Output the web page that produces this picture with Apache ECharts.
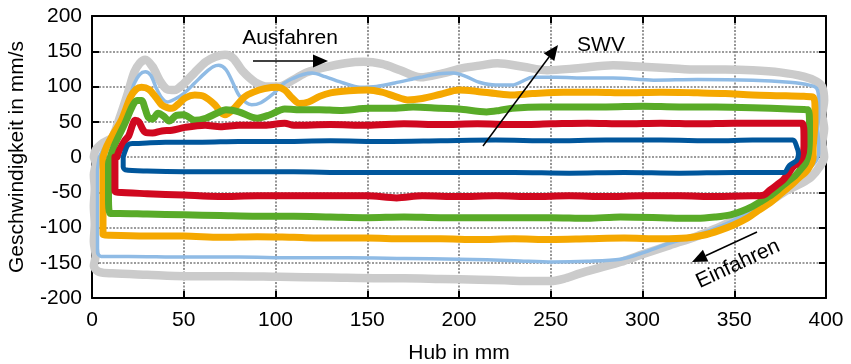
<!DOCTYPE html>
<html>
<head>
<meta charset="utf-8">
<script src="https://cdn.jsdelivr.net/npm/echarts@6/dist/echarts.min.js"></script>
<style>
  html, body { margin: 0; padding: 0; background: #fff; }
  #chart { width: 851px; height: 364px; }
</style>
</head>
<body>
<div id="chart"></div>
<script>
// Axis ticks
const xTicks = [0, 50, 100, 150, 200, 250, 300, 350, 400];
const yTicks = [-200, -150, -100, -50, 0, 50, 100, 150, 200];

// Velocity over stroke, one closed loop per speed setting:
// upper branch = extending (positive), lower branch = retracting (negative)
const loopGray = [
  [1,0],[2,10],[6,20],[11,28],[15,55],[19.6,91],[23,120],[26,133],[29,138],[33,128],[37,108],[41,96],[45,95],[50,104],
  [56,120],[62,135],[67,142],[72.5,145],[77,140],[82,122],[89,106],[96,100],[102,100],[110,110],[117,120],[128,128],
  [138,133],[148,135],[158,132],[168,123],[179,113],[190,118],[202,126],[212,130],[221,133],[235,128],[248,123],
  [265,126],[284,130],[300,128],[315,126],[330,124],[345,124],[360,123],[375,120],[388,114],[395,107],[398,99],
  [399,80],[398,60],[399,40],[398,20],[399,0],[397,-12],[392,-28],[386,-38],[379,-47],[370,-62],[360,-78],[350,-90],
  [342,-99],[330,-112],[315,-125],[300,-138],[288,-149],[277,-157],[266,-165],[258,-172],[250,-176],
  [240,-176],[225,-175],[211,-174],[190,-173],[170,-172],[157,-172],[130,-171],[102,-170],[75,-169],[51,-169],
  [30,-167],[11,-165],[4,-163],[1,-155],[2,-140],[1,-120],[1.5,-95],[1,-70],[1.5,-45],[1,-25],[2,-10],[1,0]
];

const loopLightBlue = [
  [4,0],[6,10],[10,25],[16,52],[20,80],[23,104],[26,117],[29,121],[32,116],[35,98],[38,84],[41,78],[45,82],[50,90],
  [56,105],[62,120],[66,128],[69,130],[73,124],[77,104],[80,88],[84,77],[87,74],[92,77],[98,88],[105,105],[110,112],
  [115,117],[120,119],[127,114],[137,105],[146,99],[155,100],[165,105],[179,113],[189,118],[197,119],[204,114],
  [211,106],[220,102],[229,102],[235,108],[240,113],[253,113],[270,112],[284,112],[306,109],[330,110],[360,109],
  [380,106],[391,102],[395,97],
  [396,80],[396,60],[395.5,40],[396,20],[396,5],[394,-8],[390,-18],[385,-30],[379,-42],[370,-58],[360,-75],
  [348,-92],[333,-108],[325,-115],[315,-122],[300,-136],[288,-145],[270,-148],[251,-149],
  [230,-147],[200,-145],[170,-144],[140,-143],[110,-143],[80,-142],[50,-142],[20,-141],[5,-141],[3,-135],
  [3,-100],[3,-60],[3,-20],[4,0]
];

const loopOrange = [
  [6,0],[8,15],[11,30],[16,52],[21,85],[24,96],[27,99],[31,96],[35,84],[38,74],[41,70],[43.6,69],[47,75],[51,84],
  [56,88],[61,86],[67,74],[70,64],[72.5,60],[77,68],[83,85],[88,92],[94,97],[101,99],[105,95],[109,84],[113,76],
  [118,78],[124,86],[130,91],[140,94],[150,95],[158,92],[165,86],[172,81],[180,83],[190,89],[200,95],[210,93],
  [220,90],[229,88],[240,90],[257,92],[275,92],[290,91],[310,92],[330,91],[345,90],[360,88],[375,87],[388,86],[393,85],
  [394,70],[394,50],[393.5,30],[393,10],[393,0],[390,-18],[385,-30],[380,-42],[375,-53],[369,-66],[363,-76],
  [357,-87],[350,-96],[342,-104],[333,-111],[324,-115],[310,-116],[290,-115],
  [270,-116],[250,-117],[230,-116],[210,-117],[190,-116],[170,-116],[150,-115],[130,-115],[110,-114],[90,-113],
  [70,-114],[50,-112],[30,-112],[10,-111],[6,-110],[6,-80],[6,-40],[6,-10],[6,0]
];

const loopGreen = [
  [10,0],[12,15],[15,32],[18,48],[22,72],[24.5,80],[27,80],[29,68],[30.5,57],[33,54],[36,62],[39,58],[42,51],
  [46,59],[50,60],[56,52],[62,55],[68,62],[73,67],[80,64],[90,55],[97,60],
  [105,68],[115,67],[124,67],[135,66],[151,69],[163,69],[175,71],[190,69],[200,68],[215,64],[222,66],[229,69],
  [245,71],[260,71],[280,71],[300,72],[320,71],[340,71],[360,70],[380,68],[390,67],
  [391,50],[391,30],[390.5,6],[389,-8],[386,-18],[383,-27],[379,-35],[374,-46],[369,-56],[364,-64],[360,-70],
  [354,-77],[348,-82],[340,-85],[330,-87],[324,-87],[310,-86],[288,-85],
  [270,-87],[250,-86],[230,-86],[210,-86],[190,-86],[170,-85],[150,-86],[130,-85],[110,-84],[90,-84],[70,-83],
  [50,-82],[30,-81],[15,-80],[10,-80],[9,-60],[9,-30],[9,-10],[10,0]
];

const loopRed = [
  [13.5,0],[15,10],[18,24],[20,30],[22,45],[23.4,52],[25.5,50],[27.5,40],[29,35],[33,34],[38,37],[43.6,38],
  [50.7,42],[61.6,45],[70,43],[80,45],[94,45],[105,48],[110,45],[130,46],[150,45],[170,47],[190,46],[210,47],
  [230,46],[250,47],[270,48],[290,47],[310,48],[330,47],[350,48],[370,48],[387,48],
  [388,30],[388,15],[387,0],[384,-10],[382,-14],[379,-25],[376.5,-33],[373,-40],[369.5,-47],[366,-54],[360,-55],
  [340,-56],[320,-55],[300,-55],[280,-56],[260,-55],[240,-56],[220,-55],[200,-56],[180,-55],[166,-58],[150,-55],
  [130,-55],[110,-55],[90,-55],[69,-56],[50,-54],[30,-52],[14,-50],[12.5,-48],[12.5,-20],[12.5,0],[13.5,0]
];

const loopBlue = [
  [17,0],[18,8],[19.6,17],[22,19],[24,19],[30,20],[40,21],[60,21],[80,22],[100,22],[130,23],[160,22],[190,23],
  [220,24],[250,23],[280,24],[310,24],[340,23],[360,24],[382,24],
  [384,15],[385,5],[384,-5],[380,-12],[377,-22],
  [350,-22],[320,-23],[290,-22],[260,-23],[230,-22],[200,-22],[170,-22],[140,-22],[110,-21],[80,-21],[50,-21],
  [30,-20],[18,-18],[17,-14],[17,-5],[17,0]
];

const FONT = '"Liberation Sans", Arial, sans-serif';
const FS = 21;

function loopSeries(name, data, color, width) {
  return {
    name: name,
    type: 'line',
    data: data,
    showSymbol: false,
    smooth: 0.3,
    lineStyle: { color: color, width: width, cap: 'round', join: 'round' },
    z: 2
  };
}

// Arrow made of a shaft and a filled head, pointing from (x1,y1) to (x2,y2)
function arrow(x1, y1, x2, y2) {
  const len = 15, half = 6.5;
  const a = Math.atan2(y2 - y1, x2 - x1);
  const bx = x2 - len * Math.cos(a), by = y2 - len * Math.sin(a);
  const nx = -Math.sin(a) * half, ny = Math.cos(a) * half;
  return [
    { type: 'line', shape: { x1: x1, y1: y1, x2: bx, y2: by }, style: { stroke: '#000', lineWidth: 1.5 }, z: 10 },
    { type: 'polygon', shape: { points: [[x2, y2], [bx + nx, by + ny], [bx - nx, by - ny]] }, style: { fill: '#000' }, z: 10 }
  ];
}

const gridLine = { show: true, lineStyle: { color: '#7c7c7c', width: 1.6, type: [2, 1.5] } };
const frameLine = { show: true, onZero: false, lineStyle: { color: '#000', width: 2 } };
const innerTick = { show: true, inside: true, length: 7, lineStyle: { color: '#000', width: 2 } };

const chart = echarts.init(document.getElementById('chart'), null, { renderer: 'canvas' });
chart.setOption({
  animation: false,
  backgroundColor: '#fff',
  grid: { left: 92, right: 25, top: 16, bottom: 66, outerBoundsMode: 'none', containLabel: false },
  xAxis: [
    {
      type: 'value', min: xTicks[0], max: xTicks[xTicks.length - 1], interval: xTicks[1] - xTicks[0],
      position: 'bottom',
      name: 'Hub in mm', nameLocation: 'middle', nameGap: 45,
      nameTextStyle: { fontSize: FS, color: '#000', fontFamily: FONT },
      axisLine: frameLine,
      axisTick: innerTick,
      axisLabel: { fontSize: FS, color: '#000', fontFamily: FONT, margin: 12 },
      splitLine: gridLine
    },
    {
      type: 'value', min: xTicks[0], max: xTicks[xTicks.length - 1], interval: xTicks[1] - xTicks[0],
      position: 'top',
      axisLine: frameLine,
      axisTick: innerTick,
      axisLabel: { show: false },
      splitLine: { show: false }
    }
  ],
  yAxis: [
    {
      type: 'value', min: yTicks[0], max: yTicks[yTicks.length - 1], interval: yTicks[1] - yTicks[0],
      position: 'left',
      name: 'Geschwindigkeit in mm/s', nameLocation: 'middle', nameGap: 64,
      nameTextStyle: { fontSize: FS, color: '#000', fontFamily: FONT },
      axisLine: frameLine,
      axisTick: innerTick,
      axisLabel: { fontSize: FS, color: '#000', fontFamily: FONT, margin: 10 },
      splitLine: gridLine
    },
    {
      type: 'value', min: yTicks[0], max: yTicks[yTicks.length - 1], interval: yTicks[1] - yTicks[0],
      position: 'right',
      axisLine: frameLine,
      axisTick: innerTick,
      axisLabel: { show: false },
      splitLine: { show: false }
    }
  ],
  series: [
    loopSeries('SWV 6', loopGray, '#cbcbcb', 8.5),
    loopSeries('SWV 5', loopLightBlue, '#8fbbe5', 3.5),
    loopSeries('SWV 4', loopOrange, '#f5a800', 7),
    loopSeries('SWV 3', loopGreen, '#59ab28', 7),
    loopSeries('SWV 2', loopRed, '#d0081f', 7),
    loopSeries('SWV 1', loopBlue, '#00569c', 5)
  ],
  graphic: [
    { type: 'text', x: 290, y: 38, style: { text: 'Ausfahren', fontSize: FS, fontFamily: FONT, fill: '#000', align: 'center', verticalAlign: 'middle' }, z: 10 },
    ...arrow(253, 61, 328, 61),
    { type: 'text', x: 601, y: 45, style: { text: 'SWV', fontSize: FS, fontFamily: FONT, fill: '#000', align: 'center', verticalAlign: 'middle' }, z: 10 },
    ...arrow(483, 146, 558, 45),
    { type: 'text', x: 738, y: 264, rotation: 25 * Math.PI / 180, style: { text: 'Einfahren', fontSize: FS, fontFamily: FONT, fill: '#000', align: 'center', verticalAlign: 'middle' }, z: 10 },
    ...arrow(757, 232, 692, 262)
  ]
});
</script>
</body>
</html>
